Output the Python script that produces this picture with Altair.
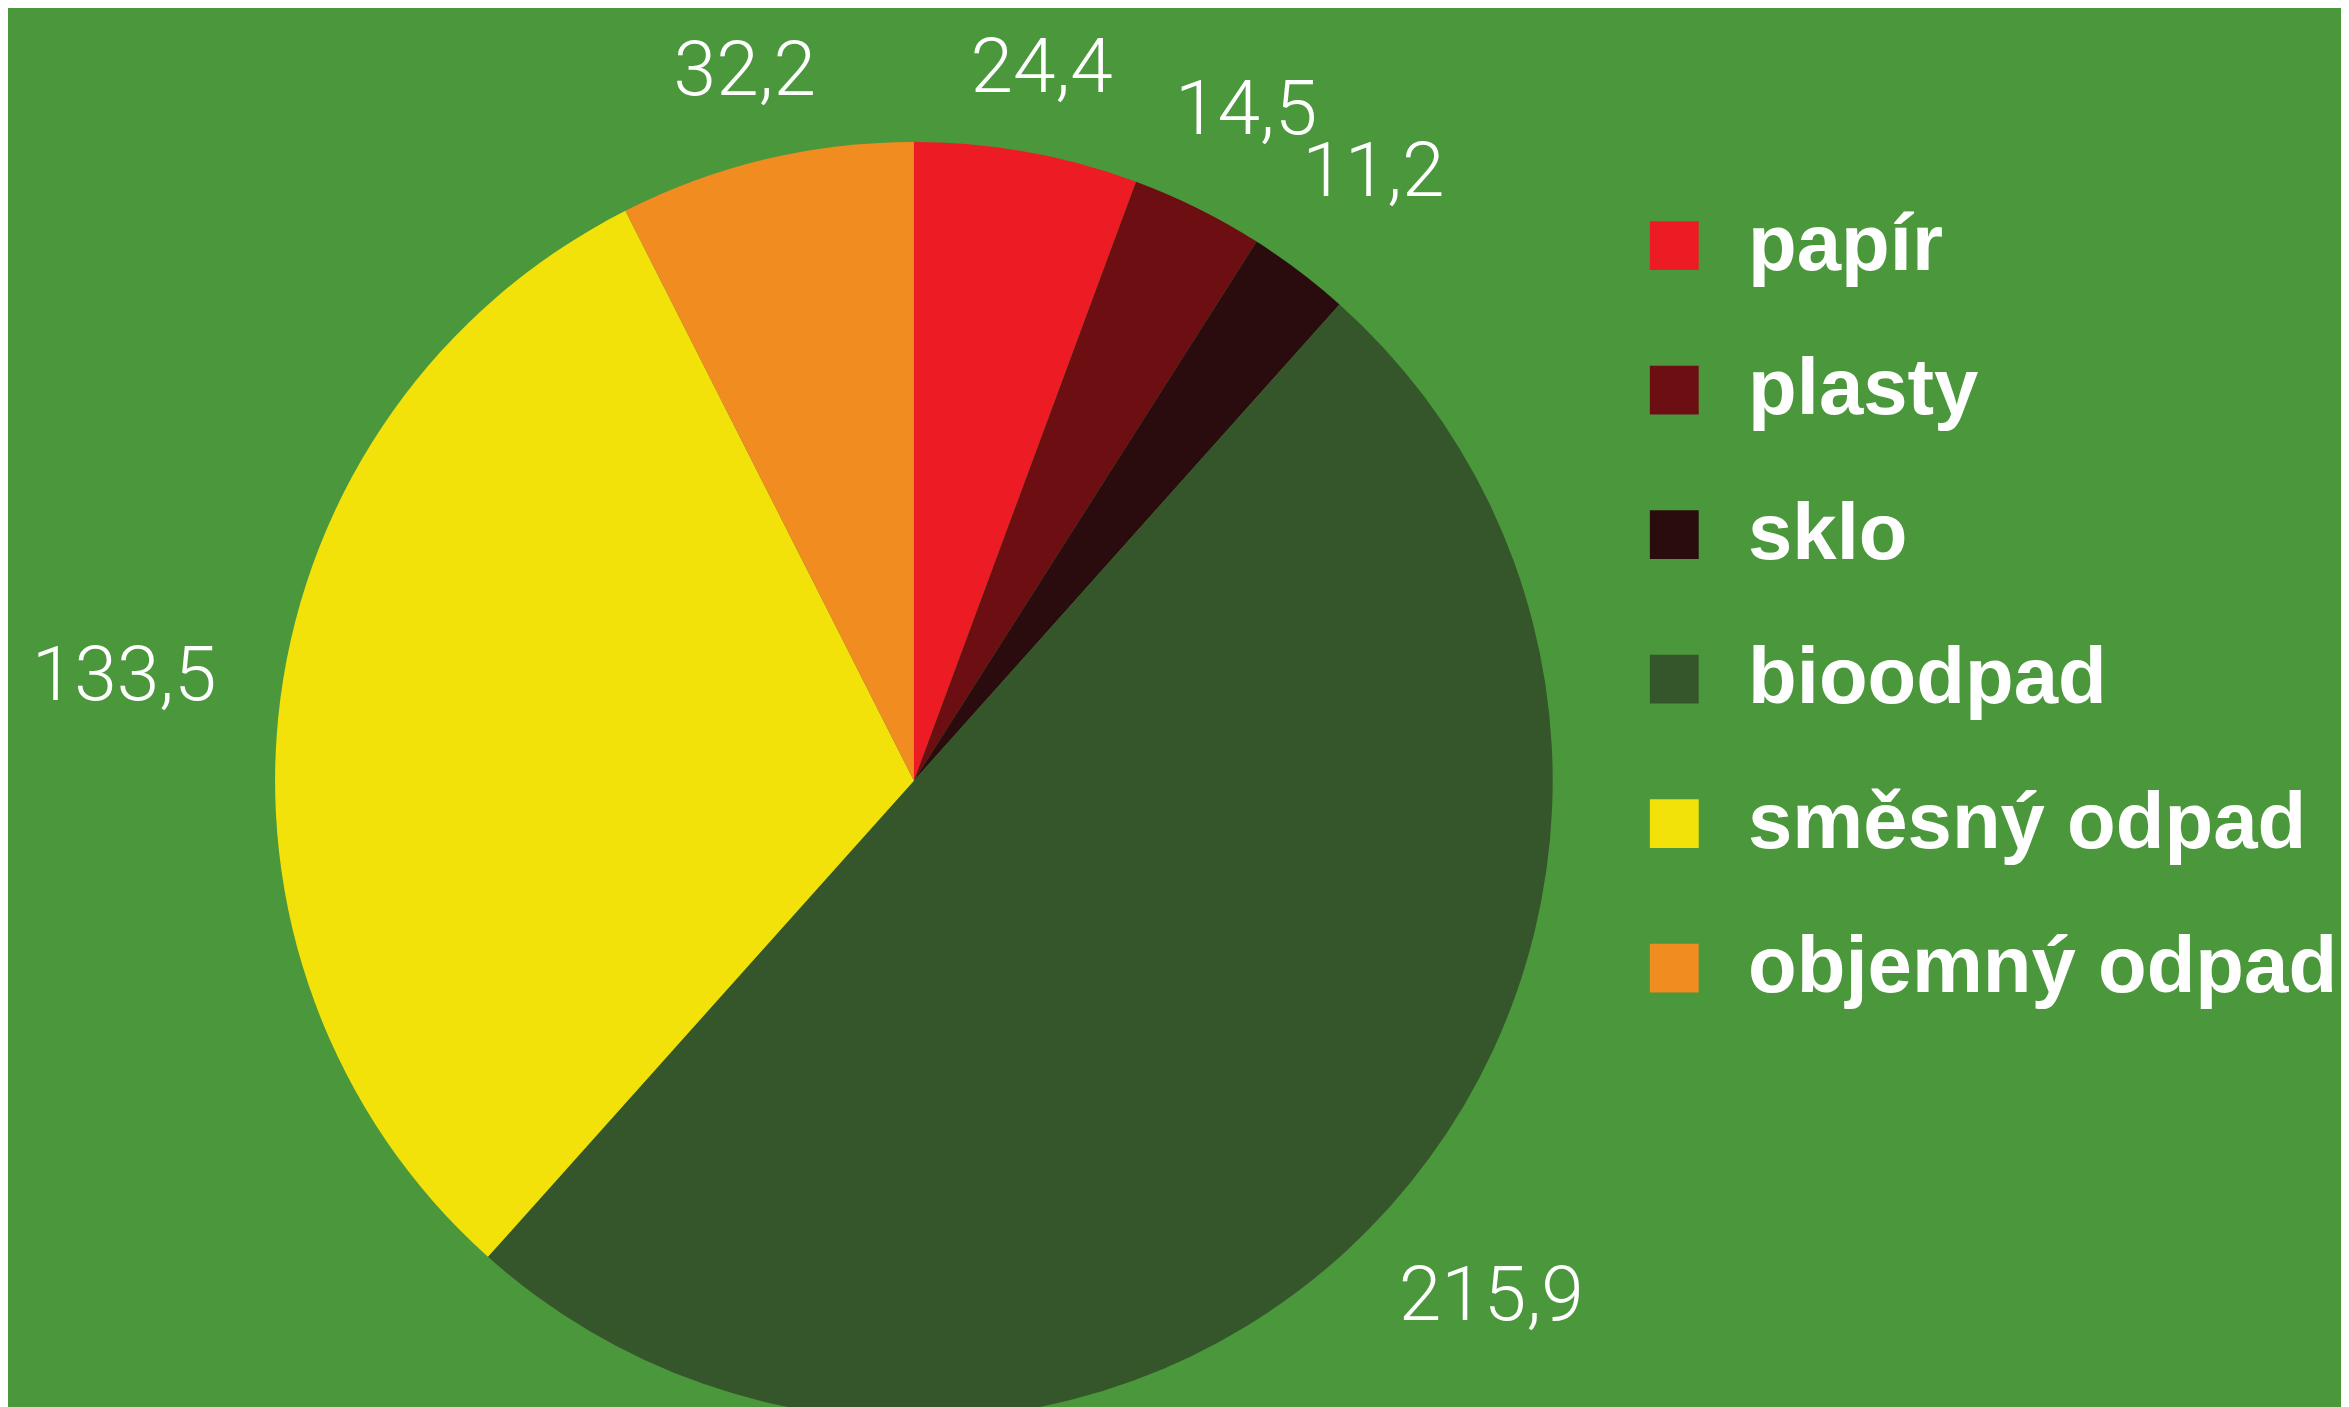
import altair as alt
import pandas as pd

categories = ["papír", "plasty", "sklo", "bioodpad", "směsný odpad", "objemný odpad"]
values = [24.4, 14.5, 11.2, 215.9, 133.5, 32.2]
colors = ["#ED1C24", "#6D0E12", "#2B0C0E", "#35562A", "#F2E20A", "#F08C20"]

df = pd.DataFrame({
    "kategorie": categories,
    "hodnota": values,
    "poradi": list(range(len(categories))),
    "popisek": [f"{v:.1f}".replace(".", ",") for v in values],
})

CX, CY = 909, 773
R = 641

pie = alt.Chart(df).mark_arc(outerRadius=R).encode(
    theta=alt.Theta("hodnota:Q", stack=True),
    order=alt.Order("poradi:Q"),
    x=alt.value(CX),
    y=alt.value(CY),
    color=alt.Color(
        "kategorie:N",
        scale=alt.Scale(domain=categories, range=colors),
        sort=categories,
        legend=alt.Legend(
            title=None,
            orient="none",
            legendX=1632,
            legendY=196,
            symbolType="square",
            symbolSize=2401,
            symbolStrokeWidth=0,
            labelFont="Liberation Sans",
            labelFontWeight="bold",
            labelFontSize=80,
            labelColor="white",
            labelOffset=34,
            rowPadding=65,
            labelLimit=1000,
            padding=0,
        ),
    ),
)

# labels at each slice's mid-angle; distance grows where the wide text sits beside the pie
labels = (
    alt.Chart(df)
    .transform_window(cum="sum(hodnota)", sort=[alt.SortField("poradi")])
    .transform_joinaggregate(total="sum(hodnota)")
    .transform_calculate(mid="(datum.cum - datum.hodnota / 2) / datum.total * 2 * PI")
    .transform_calculate(lr="710 + 90 * abs(sin(datum.mid))")
    .mark_text(
        font="Roboto",
        fontWeight=300,
        fontSize=77,
        color="white",
        align="center",
        baseline="middle",
    )
    .encode(
        theta=alt.Theta("mid:Q", scale=None),
        radius=alt.Radius("lr:Q", scale=None),
        x=alt.value(CX),
        y=alt.value(CY),
        text="popisek:N",
    )
)

chart = (
    alt.layer(pie, labels)
    .resolve_scale(theta="independent", radius="independent")
    .properties(
        width=2341,
        height=1399,
        background="#4B973C",
        padding=0,
        autosize=alt.AutoSizeParams(type="none"),
    )
    .configure_view(stroke=None)
)

chart.save("out.html", embed_options={"renderer": "svg", "actions": False})
